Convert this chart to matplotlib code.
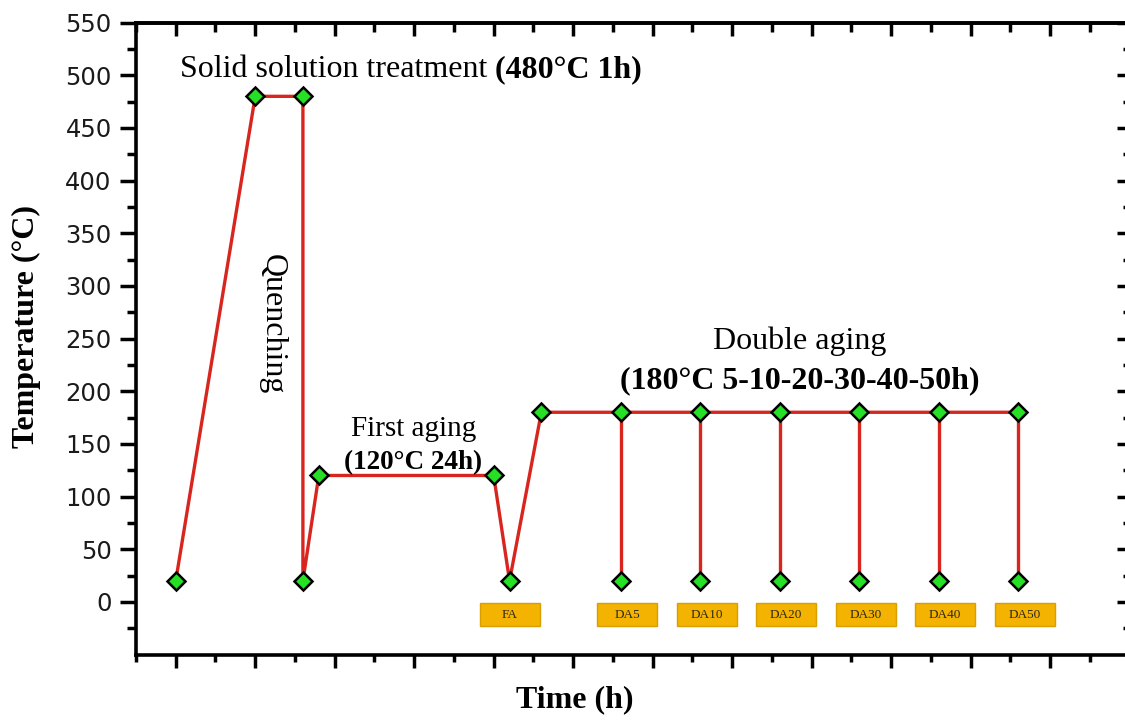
import matplotlib
matplotlib.use("Agg")
import matplotlib.pyplot as plt
from matplotlib.patches import Rectangle
import numpy as np

# ---------------- data ----------------
times = [0.0, 1.0, 1.6, 1.6, 1.8, 4.0, 4.2, 4.6]
temps = [20, 480, 480, 20, 120, 120, 20, 180]
da_times = [5.6, 6.6, 7.6, 8.6, 9.6, 10.6]
da_high = 180
da_low = 20
box_labels = ["FA", "DA5", "DA10", "DA20", "DA30", "DA40", "DA50"]
box_x = [4.2, 5.68, 6.68, 7.68, 8.68, 9.68, 10.68]
y_ticks = list(range(0, 551, 50))
y_minor = list(range(-25, 551, 50))
x_ticks = list(range(0, 13))
x_minor = [i + 0.5 for i in range(-1, 12)]

SERIF = "Liberation Serif"
RED = "#d8261f"
GREEN = "#25e025"

fig = plt.figure(figsize=(11.25, 7.22), dpi=100)
W, H = 1125, 722
ax = fig.add_axes([136 / W, (H - 654.5) / H, 993.5 / W, (654.5 - 22.6) / H])
ax.set_xlim(-0.5, 12.0)
ax.set_ylim(-50, 550)

# lines
ax.plot(times + [da_times[-1]], temps + [da_high], color=RED, lw=2.4, zorder=2,
        solid_joinstyle="miter")
for t in da_times:
    ax.plot([t, t], [da_high, da_low], color=RED, lw=2.4, zorder=2)

# markers
mx = times + da_times + da_times
my = temps + [da_high] * len(da_times) + [da_low] * len(da_times)
ax.plot(mx, my, ls="none", marker="D", ms=9.4, mfc=GREEN, mec="black", mew=1.8, zorder=3)

# boxes
bw, bh = 0.755, 22
for lab, cx in zip(box_labels, box_x):
    ax.add_patch(Rectangle((cx - bw / 2, -23), bw, bh, facecolor="#f4b300",
                           edgecolor="#d99e00", lw=1.0, zorder=2))
    ax.text(cx, -12.5, lab, ha="center", va="center", fontsize=9.5, family=SERIF,
            color="#2e2818", zorder=4)

# annotations
t1 = ax.text(0.05, 498.5, "Solid solution treatment", fontsize=23, family=SERIF,
             va="baseline", ha="left")
ax.annotate("(480°C 1h)", xy=(1, 0), xycoords=t1, xytext=(6, 0),
            textcoords="offset points", va="bottom", ha="left",
            fontsize=23, family=SERIF, weight="bold")
ax.text(1.22, 264, "Quenching", rotation=270, fontsize=23, family=SERIF,
        ha="center", va="center")
ax.text(2.99, 157.5, "First aging", fontsize=21, family=SERIF, ha="center", va="baseline")
ax.text(2.99, 126, "(120°C 24h)", fontsize=19.5, family=SERIF, weight="bold",
        ha="center", va="baseline")
ax.text(7.85, 240, "Double aging", fontsize=23, family=SERIF, ha="center", va="baseline")
ax.text(7.85, 203, "(180°C 5-10-20-30-40-50h)", fontsize=23, family=SERIF,
        weight="bold", ha="center", va="baseline")

# axes labels
ax.set_xlabel("Time (h)", fontsize=23, family=SERIF, weight="bold")
ax.xaxis.set_label_coords((575 - 136) / 993.5, (654.5 - 700) / 632)
ax.xaxis.label.set_va("center")
ax.set_ylabel("Temperature (°C)", fontsize=23, family=SERIF, weight="bold")
ax.yaxis.set_label_coords((26 - 136) / 993.5, (654.5 - 326.5) / 632)
ax.yaxis.label.set_va("center")

# ticks
ax.set_yticks(y_ticks)
ax.set_yticklabels([str(v) for v in y_ticks])
ax.set_yticks(y_minor, minor=True)
ax.set_xticks(x_ticks)
ax.set_xticklabels([])
ax.set_xticks(x_minor, minor=True)
ax.tick_params(axis="y", which="major", direction="out", length=11.5, width=2.5,
               pad=6, labelsize=17.5, labelcolor="#1a1a1a", right=False)
ax.tick_params(axis="y", which="minor", direction="out", length=6.5, width=2.5, right=False)
ax.tick_params(axis="x", which="major", direction="out", length=9, width=2.5, top=False)
ax.tick_params(axis="x", which="minor", direction="out", length=5, width=2.5, top=False)
for lab in ax.get_yticklabels():
    lab.set_family("DejaVu Sans")

for s in ax.spines.values():
    s.set_linewidth(2.6)

secx = ax.secondary_xaxis("top")
secx.set_xticks(x_ticks)
secx.set_xticks(x_minor, minor=True)
secx.tick_params(axis="x", which="major", direction="in", length=9.5, width=2.5, labeltop=False)
secx.tick_params(axis="x", which="minor", direction="in", length=6.5, width=2.5, labeltop=False)
secx.spines["top"].set_linewidth(2.6)

secy = ax.secondary_yaxis("right")
secy.set_yticks(y_ticks)
secy.set_yticks(y_minor, minor=True)
secy.tick_params(axis="y", which="major", direction="in", length=9.5, width=2.5, labelright=False)
secy.tick_params(axis="y", which="minor", direction="in", length=5, width=2.5, labelright=False)
secy.spines["right"].set_linewidth(2.6)

fig.savefig("out.png", dpi=100)
